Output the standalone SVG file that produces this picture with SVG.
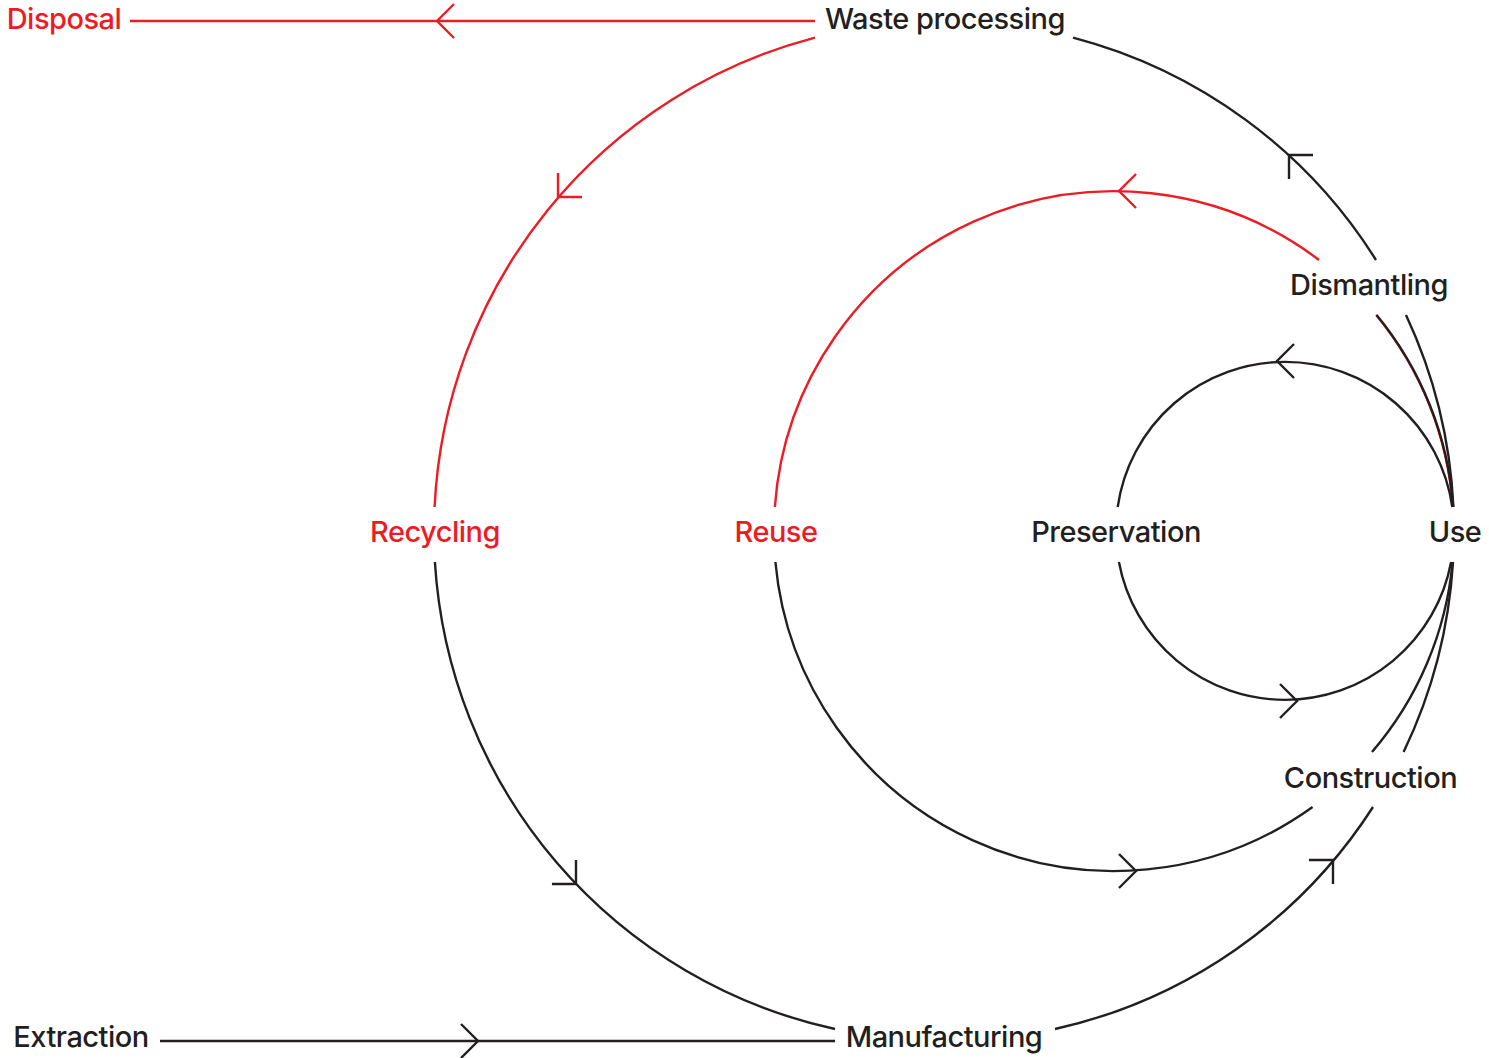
<svg xmlns="http://www.w3.org/2000/svg" xmlns:xlink="http://www.w3.org/1999/xlink" width="1489" height="1058" viewBox="0 0 1489 1058">
<style>
.lbl{font-family:Inter,"Noto Sans","Liberation Sans",sans-serif;font-size:29px;font-weight:500;letter-spacing:-0.5px;text-anchor:middle;}
.k{fill:#231F20;}
.r{fill:#ED1C24;}
.ck{fill:none;stroke:#231F20;stroke-width:2.4;}
.cr{fill:none;stroke:#ED1C24;stroke-width:2.4;}
</style>
<defs>
<path id="chev" d="M-17,-17 L0,0 L-17,17"/>
</defs>
<rect width="1489" height="1058" fill="#ffffff"/>
<g id="connectors">
  <!-- outer loop -->
  <path class="cr" d="M130,21 H815"/>
  <path class="cr" d="M815,37.6 A510,510 0 0 0 434.6,507"/>
  <path class="ck" d="M434.9,562 A510,510 0 0 0 835,1029"/>
  <path class="ck" d="M1055,1029 A510,510 0 0 0 1373,807"/>
  <path class="ck" d="M1403.6,752 A510,510 0 0 0 1453,562"/>
  <path class="ck" d="M1453.4,507 A510,510 0 0 0 1406,315"/>
  <path class="ck" d="M1376,260 A510,510 0 0 0 1073,37.6"/>
  <path class="ck" d="M160,1041 H835"/>
  <!-- middle loop -->
  <path class="cr" d="M1319,260 A340,340 0 0 0 774.85,507"/>
  <path class="ck" d="M775.4,562 A340,340 0 0 0 1312.6,807"/>
  <path class="ck" d="M1372,752 A340,340 0 0 0 1452.6,562"/>
  <path class="cr" d="M1453.15,507 A340,340 0 0 0 1376.6,315" transform="translate(-0.5,0)" style="stroke-width:2"/>
  <path class="ck" d="M1453.15,507 A340,340 0 0 0 1376.6,315"/>
  <!-- inner loop -->
  <path class="ck" d="M1452.3,507 A169,169 0 0 0 1117.7,507"/>
  <path class="ck" d="M1118.9,562 A169,169 0 0 0 1451.1,562"/>
  <!-- arrowheads -->
  <use xlink:href="#chev" class="cr" transform="translate(437,21) rotate(180)"/>
  <use xlink:href="#chev" class="cr" transform="translate(558,197) rotate(135)"/>
  <use xlink:href="#chev" class="ck" transform="translate(576,884) rotate(45)"/>
  <use xlink:href="#chev" class="ck" transform="translate(1333,860) rotate(-45)"/>
  <use xlink:href="#chev" class="ck" transform="translate(1289,155) rotate(-135)"/>
  <use xlink:href="#chev" class="cr" transform="translate(1119,191) rotate(180)"/>
  <use xlink:href="#chev" class="ck" transform="translate(1277,361) rotate(180)"/>
  <use xlink:href="#chev" class="ck" transform="translate(1297,701)"/>
  <use xlink:href="#chev" class="ck" transform="translate(1136,871)"/>
  <use xlink:href="#chev" class="ck" transform="translate(478,1041)"/>
</g>
<g id="disposal"><text class="lbl r" x="64" y="29">Disposal</text></g>
<g id="waste-processing"><text class="lbl k" x="945" y="29">Waste processing</text></g>
<g id="dismantling"><text class="lbl k" x="1369" y="295">Dismantling</text></g>
<g id="use"><text class="lbl k" x="1455" y="542">Use</text></g>
<g id="preservation"><text class="lbl k" x="1116" y="542">Preservation</text></g>
<g id="reuse"><text class="lbl r" x="776" y="542">Reuse</text></g>
<g id="recycling"><text class="lbl r" x="435" y="542">Recycling</text></g>
<g id="construction"><text class="lbl k" x="1370.5" y="788">Construction</text></g>
<g id="manufacturing"><text class="lbl k" x="944" y="1047">Manufacturing</text></g>
<g id="extraction"><text class="lbl k" x="81" y="1047">Extraction</text></g>
</svg>
